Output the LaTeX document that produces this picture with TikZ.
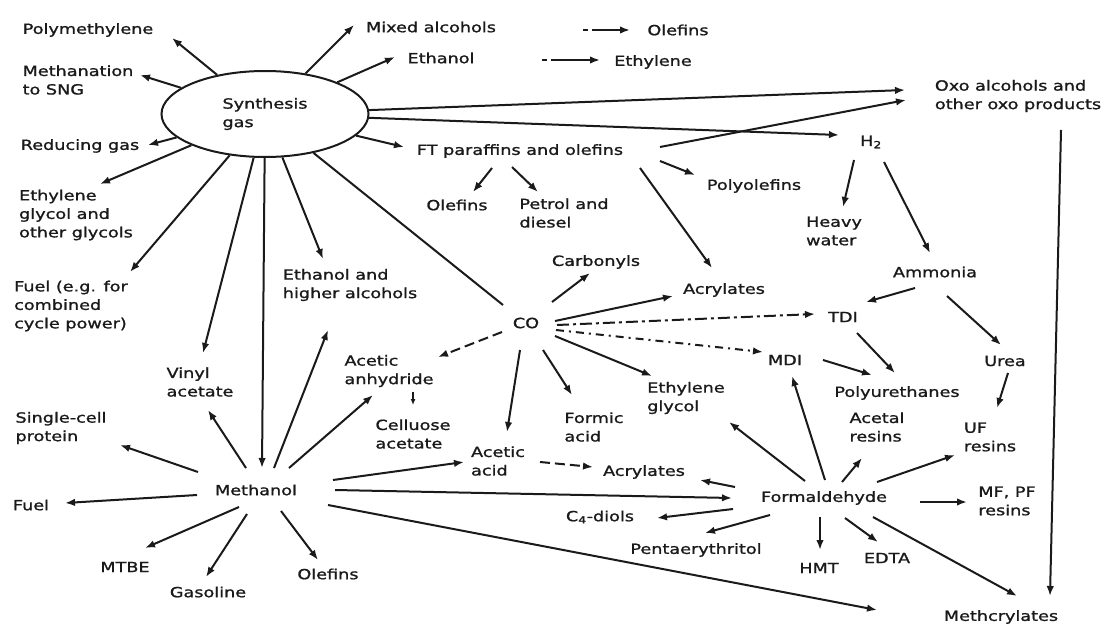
\documentclass[tikz,border=0pt]{standalone}
\usepackage{fontspec}
\setmainfont{DejaVu Sans}[FakeStretch=1.26, FakeBold=1.2]
\usetikzlibrary{arrows.meta,shapes.geometric}
\definecolor{ink}{HTML}{1A1A1A}
\begin{document}
\begin{tikzpicture}[x=1pt,y=-1pt,
  lbl/.style={font=\fontsize{14}{18.5}\selectfont, text=ink, inner sep=0pt, align=left},
  arr/.style={draw=ink, line width=2pt, -{Latex[length=10pt,width=7.5pt]}},
  arrsm/.style={draw=ink, line width=1.6pt, -{Latex[length=6pt,width=5pt]}},
  ln/.style={draw=ink, line width=2pt},
  dsh/.style={arr, dash pattern=on 10pt off 5pt},
  dshtop/.style={arr, dash pattern=on 5pt off 4pt on 80pt},
  ddot/.style={arr, dash pattern=on 12pt off 4pt on 3pt off 4pt},
  dmdi/.style={arr, dash pattern=on 8pt off 5pt on 2pt off 5pt},
]
\useasboundingbox (0,0) rectangle (1115,642);
\fill[white] (0,0) rectangle (1115,642);

% nodes
\node[ellipse, draw=ink, line width=2pt, minimum width=207pt, minimum height=86pt, lbl] (sg) at (265,114) {Synthesis\\gas};
\node[lbl] (poly) at (88,30) {Polymethylene};
\node[lbl] (meth) at (78,80) {Methanation\\to SNG};
\node[lbl] (red) at (80,146) {Reducing gas};
\node[lbl] (eg) at (76,215) {Ethylene\\glycol and\\other glycols};
\node[lbl] (fuel1) at (71,306) {Fuel (e.g. for\\combined\\cycle power)};
\node[lbl] (scp) at (61,428) {Single-cell\\protein};
\node[lbl] (fuel2) at (31,505) {Fuel};
\node[lbl] (mtbe) at (125,567) {MTBE};
\node[lbl] (gaso) at (208,592) {Gasoline};
\node[lbl] (ole3) at (328,574) {Olefins};
\node[lbl] (methanol) at (256,490) {Methanol};
\node[lbl] (vinyl) at (200,382) {Vinyl\\acetate};
\node[lbl] (ethhi) at (350,285) {Ethanol and\\higher alcohols};
\node[lbl] (aanh) at (389,371) {Acetic\\anhydride};
\node[lbl] (cell) at (413,434) {Celluose\\acetate};
\node[lbl] (aacid) at (498,461) {Acetic\\acid};
\node[lbl] (acr2) at (644,472) {Acrylates};
\node[lbl] (form) at (824,498) {Formaldehyde};
\node[lbl] (c4) at (600,517) {C\textsubscript{4}-diols};
\node[lbl] (penta) at (696,550) {Pentaerythritol};
\node[lbl] (hmt) at (819,568) {HMT};
\node[lbl] (edta) at (887,558) {EDTA};
\node[lbl] (meth2) at (1001,617) {Methcrylates};
\node[lbl] (mfpf) at (1007,501) {MF, PF\\resins};
\node[lbl] (uf) at (990,437) {UF\\resins};
\node[lbl] (acetal) at (877,427) {Acetal\\resins};
\node[lbl] (pu) at (897,393) {Polyurethanes};
\node[lbl] (urea) at (1005,361) {Urea};
\node[lbl] (ammonia) at (935,272) {Ammonia};
\node[lbl] (tdi) at (843,317) {TDI};
\node[lbl] (mdi) at (785,360) {MDI};
\node[lbl] (eg2) at (686,398) {Ethylene\\glycol};
\node[lbl] (formic) at (594,427) {Formic\\acid};
\node[lbl] (co) at (526,323) {CO};
\node[lbl] (carb) at (596,262) {Carbonyls};
\node[lbl] (acr1) at (724,290) {Acrylates};
\node[lbl] (ft) at (520,151) {FT paraffins and olefins};
\node[lbl] (ole2) at (457,205) {Olefins};
\node[lbl] (petrol) at (564,213) {Petrol and\\diesel};
\node[lbl] (polyole) at (754,186) {Polyolefins};
\node[lbl] (h2) at (871,142) {H\textsubscript{2}};
\node[lbl] (heavy) at (834,231) {Heavy\\water};
\node[lbl] (oxo) at (1018,96) {Oxo alcohols and\\other oxo products};
\node[lbl] (mixed) at (431,27) {Mixed alcohols};
\node[lbl] (ole1) at (678,30) {Olefins};
\node[lbl] (ethanol) at (441,58) {Ethanol};
\node[lbl] (ethylene) at (653,62) {Ethylene};

% synthesis gas
\draw[arr] (sg) -- ([shift={(84,8)}]poly.center);
\draw[arr] (sg) -- ([shift={(62,-5)}]meth.center);
\draw[arr] (sg) -- ([shift={(68,-1)}]red.center);
\draw[arr] (sg) -- ([shift={(24,-31)}]eg.center);
\draw[arr] (sg) -- ([shift={(-77,-2)}]mixed.center);
\draw[arr] (sg) -- ([shift={(-46,-1)}]ethanol.center);
\draw[arr] (sg) -- ([shift={(-113,-6)}]oxo.center);
\draw[arr] (sg) -- ([shift={(-32,-7)}]h2.center);
\draw[arr] (sg) -- ([shift={(-116,-4)}]ft.center);
\draw[ln]  (sg) -- ([shift={(-23,-18)}]co.center);
\draw[arr] (sg) -- ([shift={(-27,-26)}]ethhi.center);
\draw[arr] (sg) -- ([shift={(6,-22)}]methanol.center);
\draw[arr] (sg) -- ([shift={(3,-29)}]vinyl.center);
\draw[arr] (sg) -- ([shift={(59,-34)}]fuel1.center);

% top dashed
\draw[dshtop] ([shift={(152,3)}]mixed.center) -- ([shift={(-48,0)}]ole1.center);
\draw[dshtop] ([shift={(101,2)}]ethanol.center) -- ([shift={(-53,-2)}]ethylene.center);

% FT
\draw[arr] ([shift={(140,-4)}]ft.center) -- ([shift={(-112,4)}]oxo.center);
\draw[arr] ([shift={(-28,17)}]ft.center) -- ([shift={(16,-13)}]ole2.center);
\draw[arr] ([shift={(-8,16)}]ft.center) -- ([shift={(-26,-21)}]petrol.center);
\draw[arr] ([shift={(140,10)}]ft.center) -- ([shift={(-59,-11)}]polyole.center);
\draw[arr] ([shift={(120,17)}]ft.center) -- ([shift={(-12,-22)}]acr1.center);

% H2, oxo
\draw[arr] ([shift={(-17,18)}]h2.center) -- ([shift={(9,-24)}]heavy.center);
\draw[arr] ([shift={(13,20)}]h2.center) -- ([shift={(-5,-19)}]ammonia.center);
\draw[arr] ([shift={(43,34)}]oxo.center) -- ([shift={(49,-21)}]meth2.center);

% ammonia
\draw[arr] ([shift={(-20,16)}]ammonia.center) -- ([shift={(23,-15)}]tdi.center);
\draw[arr] ([shift={(12,24)}]ammonia.center) -- ([shift={(-4,-16)}]urea.center);
\draw[arr] ([shift={(3,12)}]urea.center) -- ([shift={(7,-29)}]uf.center);
\draw[arr] ([shift={(14,16)}]tdi.center) -- ([shift={(-2,-20)}]pu.center);
\draw[arr] ([shift={(38,0)}]mdi.center) -- ([shift={(-25,-18)}]pu.center);

% CO
\draw[arr] ([shift={(26,-21)}]co.center) -- ([shift={(-6,11)}]carb.center);
\draw[arr] ([shift={(29,-2)}]co.center) -- ([shift={(-51,6)}]acr1.center);
\draw[ddot] ([shift={(31,2)}]co.center) -- ([shift={(-28,-3)}]tdi.center);
\draw[dmdi] ([shift={(30,7)}]co.center) -- ([shift={(-22,-8)}]mdi.center);
\draw[arr] ([shift={(29,13)}]co.center) -- ([shift={(-34,-22)}]eg2.center);
\draw[arr] ([shift={(17,27)}]co.center) -- ([shift={(-22,-32)}]formic.center);
\draw[arr] ([shift={(-6,27)}]co.center) -- ([shift={(9,-29)}]aacid.center);
\draw[dsh] ([shift={(-24,9)}]co.center) -- ([shift={(49,-14)}]aanh.center);
\draw[arrsm] ([shift={(24,21)}]aanh.center) -- ([shift={(0,-29)}]cell.center);

% methanol
\draw[arr] ([shift={(-58,-18)}]methanol.center) -- ([shift={(59,17)}]scp.center);
\draw[arr] ([shift={(-59,5)}]methanol.center) -- ([shift={(34,-2)}]fuel2.center);
\draw[arr] ([shift={(-17,17)}]methanol.center) -- ([shift={(20,-19)}]mtbe.center);
\draw[arr] ([shift={(-9,24)}]methanol.center) -- ([shift={(-2,-15)}]gaso.center);
\draw[arr] ([shift={(25,21)}]methanol.center) -- ([shift={(-10,-14)}]ole3.center);
\draw[arr] ([shift={(-10,-22)}]methanol.center) -- ([shift={(8,28)}]vinyl.center);
\draw[arr] ([shift={(18,-22)}]methanol.center) -- ([shift={(-22,45)}]ethhi.center);
\draw[arr] ([shift={(33,-22)}]methanol.center) -- ([shift={(-16,24)}]aanh.center);
\draw[arr] ([shift={(77,-10)}]methanol.center) -- ([shift={(-34,1)}]aacid.center);
\draw[arr] ([shift={(79,0)}]methanol.center) -- ([shift={(-92,0)}]form.center);
\draw[arr] ([shift={(72,15)}]methanol.center) -- ([shift={(-124,-7)}]meth2.center);

\draw[dsh] ([shift={(42,1)}]aacid.center) -- ([shift={(-51,-5)}]acr2.center);

% formaldehyde
\draw[arr] ([shift={(-89,-11)}]form.center) -- ([shift={(56,8)}]acr2.center);
\draw[arr] ([shift={(-91,11)}]form.center) -- ([shift={(57,1)}]c4.center);
\draw[arr] ([shift={(-54,17)}]form.center) -- ([shift={(9,-17)}]penta.center);
\draw[arr] ([shift={(-19,-17)}]form.center) -- ([shift={(43,24)}]eg2.center);
\draw[arr] ([shift={(1,-18)}]form.center) -- ([shift={(7,16)}]mdi.center);
\draw[arr] ([shift={(18,-16)}]form.center) -- ([shift={(-15,31)}]acetal.center);
\draw[arr] ([shift={(53,-16)}]form.center) -- ([shift={(-35,18)}]uf.center);
\draw[arr] ([shift={(96,4)}]form.center) -- ([shift={(-40,1)}]mfpf.center);
\draw[arr] ([shift={(-4,19)}]form.center) -- ([shift={(1,-18)}]hmt.center);
\draw[arr] ([shift={(21,20)}]form.center) -- ([shift={(-9,-16)}]edta.center);
\draw[arr] ([shift={(49,19)}]form.center) -- ([shift={(16,-21)}]meth2.center);
\end{tikzpicture}
\end{document}
